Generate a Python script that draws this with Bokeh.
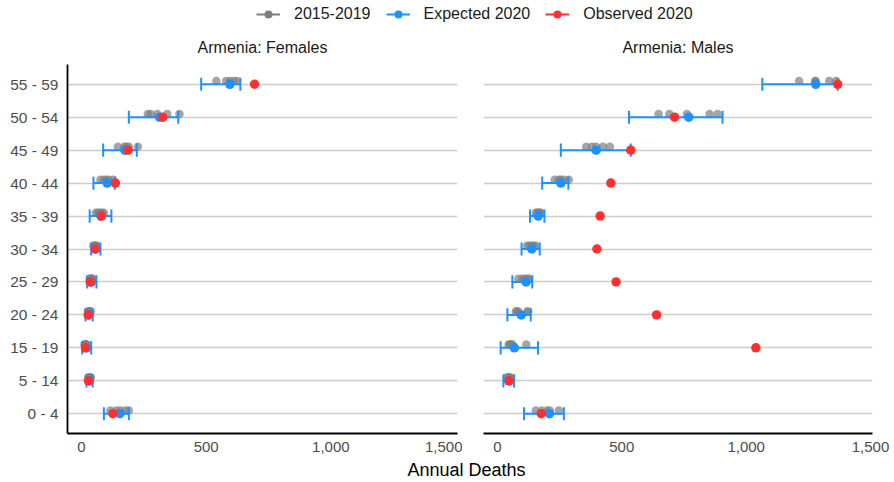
from bokeh.plotting import figure
from bokeh.layouts import column, row
from bokeh.models import (ColumnDataSource, Range1d, FixedTicker, NumeralTickFormatter,
                          Legend, LegendItem, Label)
from bokeh.embed import file_html
from bokeh.resources import INLINE

# ---- data -------------------------------------------------------------
age_groups = ["0 - 4", "5 - 14", "15 - 19", "20 - 24", "25 - 29", "30 - 34",
              "35 - 39", "40 - 44", "45 - 49", "50 - 54", "55 - 59"]

# annual deaths 2015-2019 (five years per age group)
female_history = [
    [116, 140, 156, 176, 190],
    [27, 30, 33, 35, 37],
    [12, 14, 17, 19, 22],
    [26, 29, 32, 34, 37],
    [33, 36, 39, 42, 45],
    [48, 52, 55, 58, 62],
    [58, 66, 74, 82, 90],
    [76, 90, 100, 110, 127],
    [146, 172, 180, 190, 226],
    [266, 277, 304, 344, 393],
    [541, 580, 595, 611, 624],
]
female_expected = [154, 32, 20, 30, 40, 57, 78, 103, 174, 313, 595]
female_expected_lo = [90, 20, 3, 16, 23, 39, 33, 48, 87, 190, 480]
female_expected_hi = [190, 45, 39, 45, 60, 76, 120, 134, 222, 388, 637]
female_observed = [126, 28, 16, 27, 35, 55, 80, 136, 187, 326, 694]

male_history = [
    [154, 178, 200, 211, 247],
    [38, 42, 45, 49, 53],
    [45, 50, 55, 60, 116],
    [74, 78, 84, 120, 124],
    [84, 100, 110, 120, 127],
    [119, 128, 138, 146, 154],
    [154, 160, 165, 170, 174],
    [230, 247, 255, 267, 287],
    [357, 380, 397, 424, 452],
    [648, 691, 762, 853, 885],
    [1213, 1277, 1280, 1334, 1361],
]
male_expected = [209, 45, 68, 96, 115, 138, 164, 255, 397, 769, 1280]
male_expected_lo = [107, 24, 13, 40, 60, 97, 131, 180, 255, 529, 1065]
male_expected_hi = [267, 67, 163, 134, 140, 170, 189, 285, 536, 905, 1368]
male_observed = [176, 47, 1039, 640, 477, 400, 413, 456, 536, 712, 1368]

panel_titles = ["Armenia: Females", "Armenia: Males"]
x_ticks = [0, 500, 1000, 1500]
series_names = ["2015-2019", "Expected 2020", "Observed 2020"]
series_colors = ["#7F7F7F", "#1E90FF", "#FF3030"]

# ---- styling constants -------------------------------------------------
FONT = "Liberation Sans"
TICK_COLOR = "#4D4D4D"
GRID_COLOR = "#CCCCCC"
HIST_NUDGE = 0.1      # history points sit slightly above the row line
CAP_HALF = 0.2        # half height of the error-bar caps (row units)
HEADER_H, PANEL_H, FOOTER_H = 64, 390, 28

y_pos = list(range(1, len(age_groups) + 1))


def make_panel(history, expected, lo, hi, observed, show_y,
               width, border_left, border_right):
    p = figure(width=width, height=PANEL_H,
               x_range=Range1d(-56, 1508), y_range=Range1d(0.4, 11.6),
               output_backend="svg", toolbar_location=None,
               min_border_left=border_left, min_border_right=border_right,
               min_border_top=0, min_border_bottom=21)
    p.outline_line_color = None
    p.background_fill_color = "white"
    p.border_fill_color = "white"

    # x axis
    p.xaxis.ticker = FixedTicker(ticks=x_ticks)
    p.xaxis.formatter = NumeralTickFormatter(format="0,0")
    p.xaxis.major_tick_out = 0
    p.xaxis.major_tick_in = 0
    p.xaxis.minor_tick_out = 0
    p.xaxis.minor_tick_in = 0
    p.xaxis.major_label_standoff = 8
    p.xaxis.major_label_text_font = FONT
    p.xaxis.major_label_text_font_size = "15px"
    p.xaxis.major_label_text_color = TICK_COLOR
    p.xaxis.axis_line_color = "black"
    p.xaxis.axis_line_width = 1.8
    p.xgrid.visible = False

    # y axis (age groups)
    p.yaxis.ticker = FixedTicker(ticks=y_pos)
    p.yaxis.major_label_overrides = {y: lab for y, lab in zip(y_pos, age_groups)}
    p.yaxis.major_tick_out = 0
    p.yaxis.major_tick_in = 0
    p.yaxis.minor_tick_out = 0
    p.yaxis.minor_tick_in = 0
    p.yaxis.major_label_standoff = 9
    p.yaxis.major_label_text_font = FONT
    p.yaxis.major_label_text_font_size = "15.5px"
    p.yaxis.major_label_text_color = TICK_COLOR
    p.yaxis.axis_line_color = "black"
    p.yaxis.axis_line_width = 1.8
    p.yaxis.visible = show_y
    p.ygrid.ticker = FixedTicker(ticks=y_pos)
    p.ygrid.grid_line_color = GRID_COLOR
    p.ygrid.grid_line_width = 1.5

    # 2015-2019 points
    hx, hy = [], []
    for y, vals in zip(y_pos, history):
        for v in vals:
            hx.append(v)
            hy.append(y + HIST_NUDGE)
    p.scatter(x=hx, y=hy, size=8.5, fill_color=series_colors[0], line_color=None,
              fill_alpha=0.7)

    # expected interval
    eb = ColumnDataSource(dict(
        lo=lo, hi=hi, y=y_pos,
        y0=[y - CAP_HALF for y in y_pos], y1=[y + CAP_HALF for y in y_pos]))
    c = series_colors[1]
    p.segment(x0="lo", y0="y", x1="hi", y1="y", source=eb, line_color=c, line_width=2)
    p.segment(x0="lo", y0="y0", x1="lo", y1="y1", source=eb, line_color=c, line_width=2)
    p.segment(x0="hi", y0="y0", x1="hi", y1="y1", source=eb, line_color=c, line_width=2)

    # expected and observed 2020
    p.scatter(x=expected, y=y_pos, size=9.5, fill_color=series_colors[1], line_color=None)
    p.scatter(x=observed, y=y_pos, size=9.5, fill_color=series_colors[2], line_color=None)
    return p


p_f = make_panel(female_history, female_expected, female_expected_lo,
                 female_expected_hi, female_observed, True, 462, 67, 5)
p_m = make_panel(male_history, male_expected, male_expected_lo,
                 male_expected_hi, male_observed, False, 432, 21, 22)

# ---- legend + facet titles strip ---------------------------------------
header = figure(width=894, height=HEADER_H, x_range=Range1d(0, 894),
                y_range=Range1d(0, HEADER_H), x_axis_type=None, y_axis_type=None,
                output_backend="svg", toolbar_location=None, min_border=0)
header.outline_line_color = None
header.grid.visible = False
# key-only renderers: a single NaN row so the legend has a glyph to draw
key_source = ColumnDataSource(dict(x=[float("nan")], y=[float("nan")]))
items = []
for name, color in zip(series_names, series_colors):
    ln = header.line("x", "y", source=key_source, line_color=color, line_width=2)
    pt = header.scatter("x", "y", source=key_source, size=8, fill_color=color,
                        line_color=None)
    items.append(LegendItem(label=name, renderers=[ln, pt]))
legend = Legend(items=items, orientation="horizontal", location=(256, HEADER_H - 24),
                glyph_width=24, glyph_height=20, label_height=20,
                label_standoff=14, spacing=15, padding=0, margin=0,
                border_line_color=None, background_fill_alpha=0,
                label_text_font=FONT, label_text_font_size="16px",
                label_text_color="#1A1A1A")
header.add_layout(legend)

# facet strip labels centred over each panel's frame
for title, cx in zip(panel_titles, [262, 677.5]):
    header.add_layout(Label(x=cx, y=HEADER_H - 47, text=title, text_align="center",
                            text_baseline="middle", text_font=FONT,
                            text_font_size="16px", text_color="#1A1A1A"))

# ---- shared x-axis title ----------------------------------------------
footer = figure(width=894, height=FOOTER_H, x_range=Range1d(0, 894),
                y_range=Range1d(0, FOOTER_H), x_axis_type=None, y_axis_type=None,
                output_backend="svg", toolbar_location=None, min_border=0)
footer.outline_line_color = None
footer.grid.visible = False
footer.add_layout(Label(x=466, y=13, text="Annual Deaths", text_align="center",
                        text_baseline="middle", text_font=FONT,
                        text_font_size="18px", text_color="black"))

layout = column(header, row(p_f, p_m), footer)

open("out.html", "w").write(file_html(layout, INLINE))
